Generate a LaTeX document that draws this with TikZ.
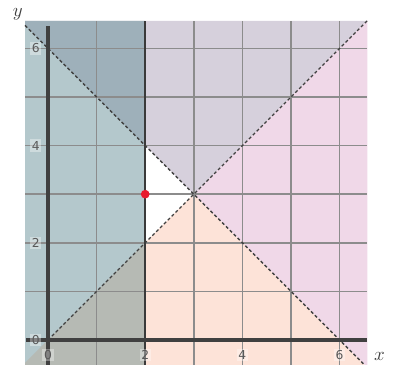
\documentclass[tikz,border=0pt]{standalone}
\usepackage{fontspec}
\newfontfamily\tickfont{DejaVu Sans}
\definecolor{cteal}{HTML}{B4C8CC}
\definecolor{cdark}{HTML}{9EB0BA}
\definecolor{clav}{HTML}{D6D0DC}
\definecolor{cpink}{HTML}{F0D8E8}
\definecolor{cpeach}{HTML}{FDE3D8}
\definecolor{cgreyg}{HTML}{B6BAB4}
\definecolor{cgrid}{HTML}{8C8C8C}
\definecolor{caxis}{HTML}{404040}
\definecolor{cdot}{HTML}{E8192C}
\tikzset{
  gridline/.style={draw=cgrid, line width=0.85pt},
  axisline/.style={draw=caxis, line width=2.1pt},
  boundline/.style={draw=caxis!90!black, line width=1.1pt},
  dashline/.style={draw=caxis, line width=0.8pt, dash pattern=on 1.8pt off 1.4pt},
  ticklabel/.style={font=\tickfont\fontsize{7.2}{8}\selectfont, text=black!65, fill=white, fill opacity=0.35, text opacity=1, inner sep=1pt},
  axlabel/.style={font=\fontsize{11}{12}\selectfont, text=black!75, inner sep=0pt}
}
\begin{document}
\begin{tikzpicture}[x=1cm,y=1cm]
\def\L{-0.473}
\def\R{6.574}
\def\T{6.564}
\def\B{-0.52}
\useasboundingbox (-0.988,-0.514) rectangle (7.099,6.996);
% base regions
\fill[clav] (3,3) -- (\L,6.473) -- (\L,\T) -- (\R,\T) -- (\R,\R) -- cycle;
\fill[cpink] (3,3) -- (\R,\R) -- (\R,\B) -- (6.52,\B) -- cycle;
\fill[cpeach] (3,3) -- (6.52,\B) -- (\L,\B) -- (\L,\L) -- cycle;
% x<2 overlay
\begin{scope}
\clip (\L,\B) rectangle (2,\T);
\fill[cteal] (\L,\B) rectangle (2,\T);
\fill[cdark] (3,3) -- (\L,6.473) -- (\L,\T) -- (\R,\T) -- (\R,\R) -- cycle;
\fill[cgreyg] (3,3) -- (6.52,\B) -- (\L,\B) -- (\L,\L) -- cycle;
\end{scope}
% grid
\foreach \i in {1,...,6} {
  \draw[gridline] (\i,\B) -- (\i,\T);
  \draw[gridline] (\L,\i) -- (\R,\i);
}
% boundary x=2
\draw[boundline] (2,\B) -- (2,\T);
% dashed lines
\coordinate (o) at (0,0);
\coordinate (tr) at (\R,\R);
\coordinate (tl) at (\L,6.473);
\coordinate (br) at (6.52,\B);
\draw[dashline] (o) -- (tr);
\draw[dashline] (tl) -- (br);
% axes
\coordinate (xa0) at (-0.45,0);
\coordinate (xa1) at (6.57,0);
\coordinate (ya0) at (0,\B);
\coordinate (ya1) at (0,6.46);
\draw[axisline] (xa0) -- (xa1);
\draw[axisline] (ya0) -- (ya1);
% tick labels
\foreach \v in {0,2,4,6} {
  \node[ticklabel] (xl\v) at (\v,-0.31) {\v};
  \node[ticklabel] (yl\v) at (-0.25,\v) {\v};
}
% axis labels
\node[axlabel] (ylab) at (-0.62,6.70) {$y$};
\node[axlabel, anchor=north] (xlab) at (6.82,-0.24) {$x$};
% point
\fill[cdot] (2,3) circle (0.09);
\end{tikzpicture}
\end{document}
